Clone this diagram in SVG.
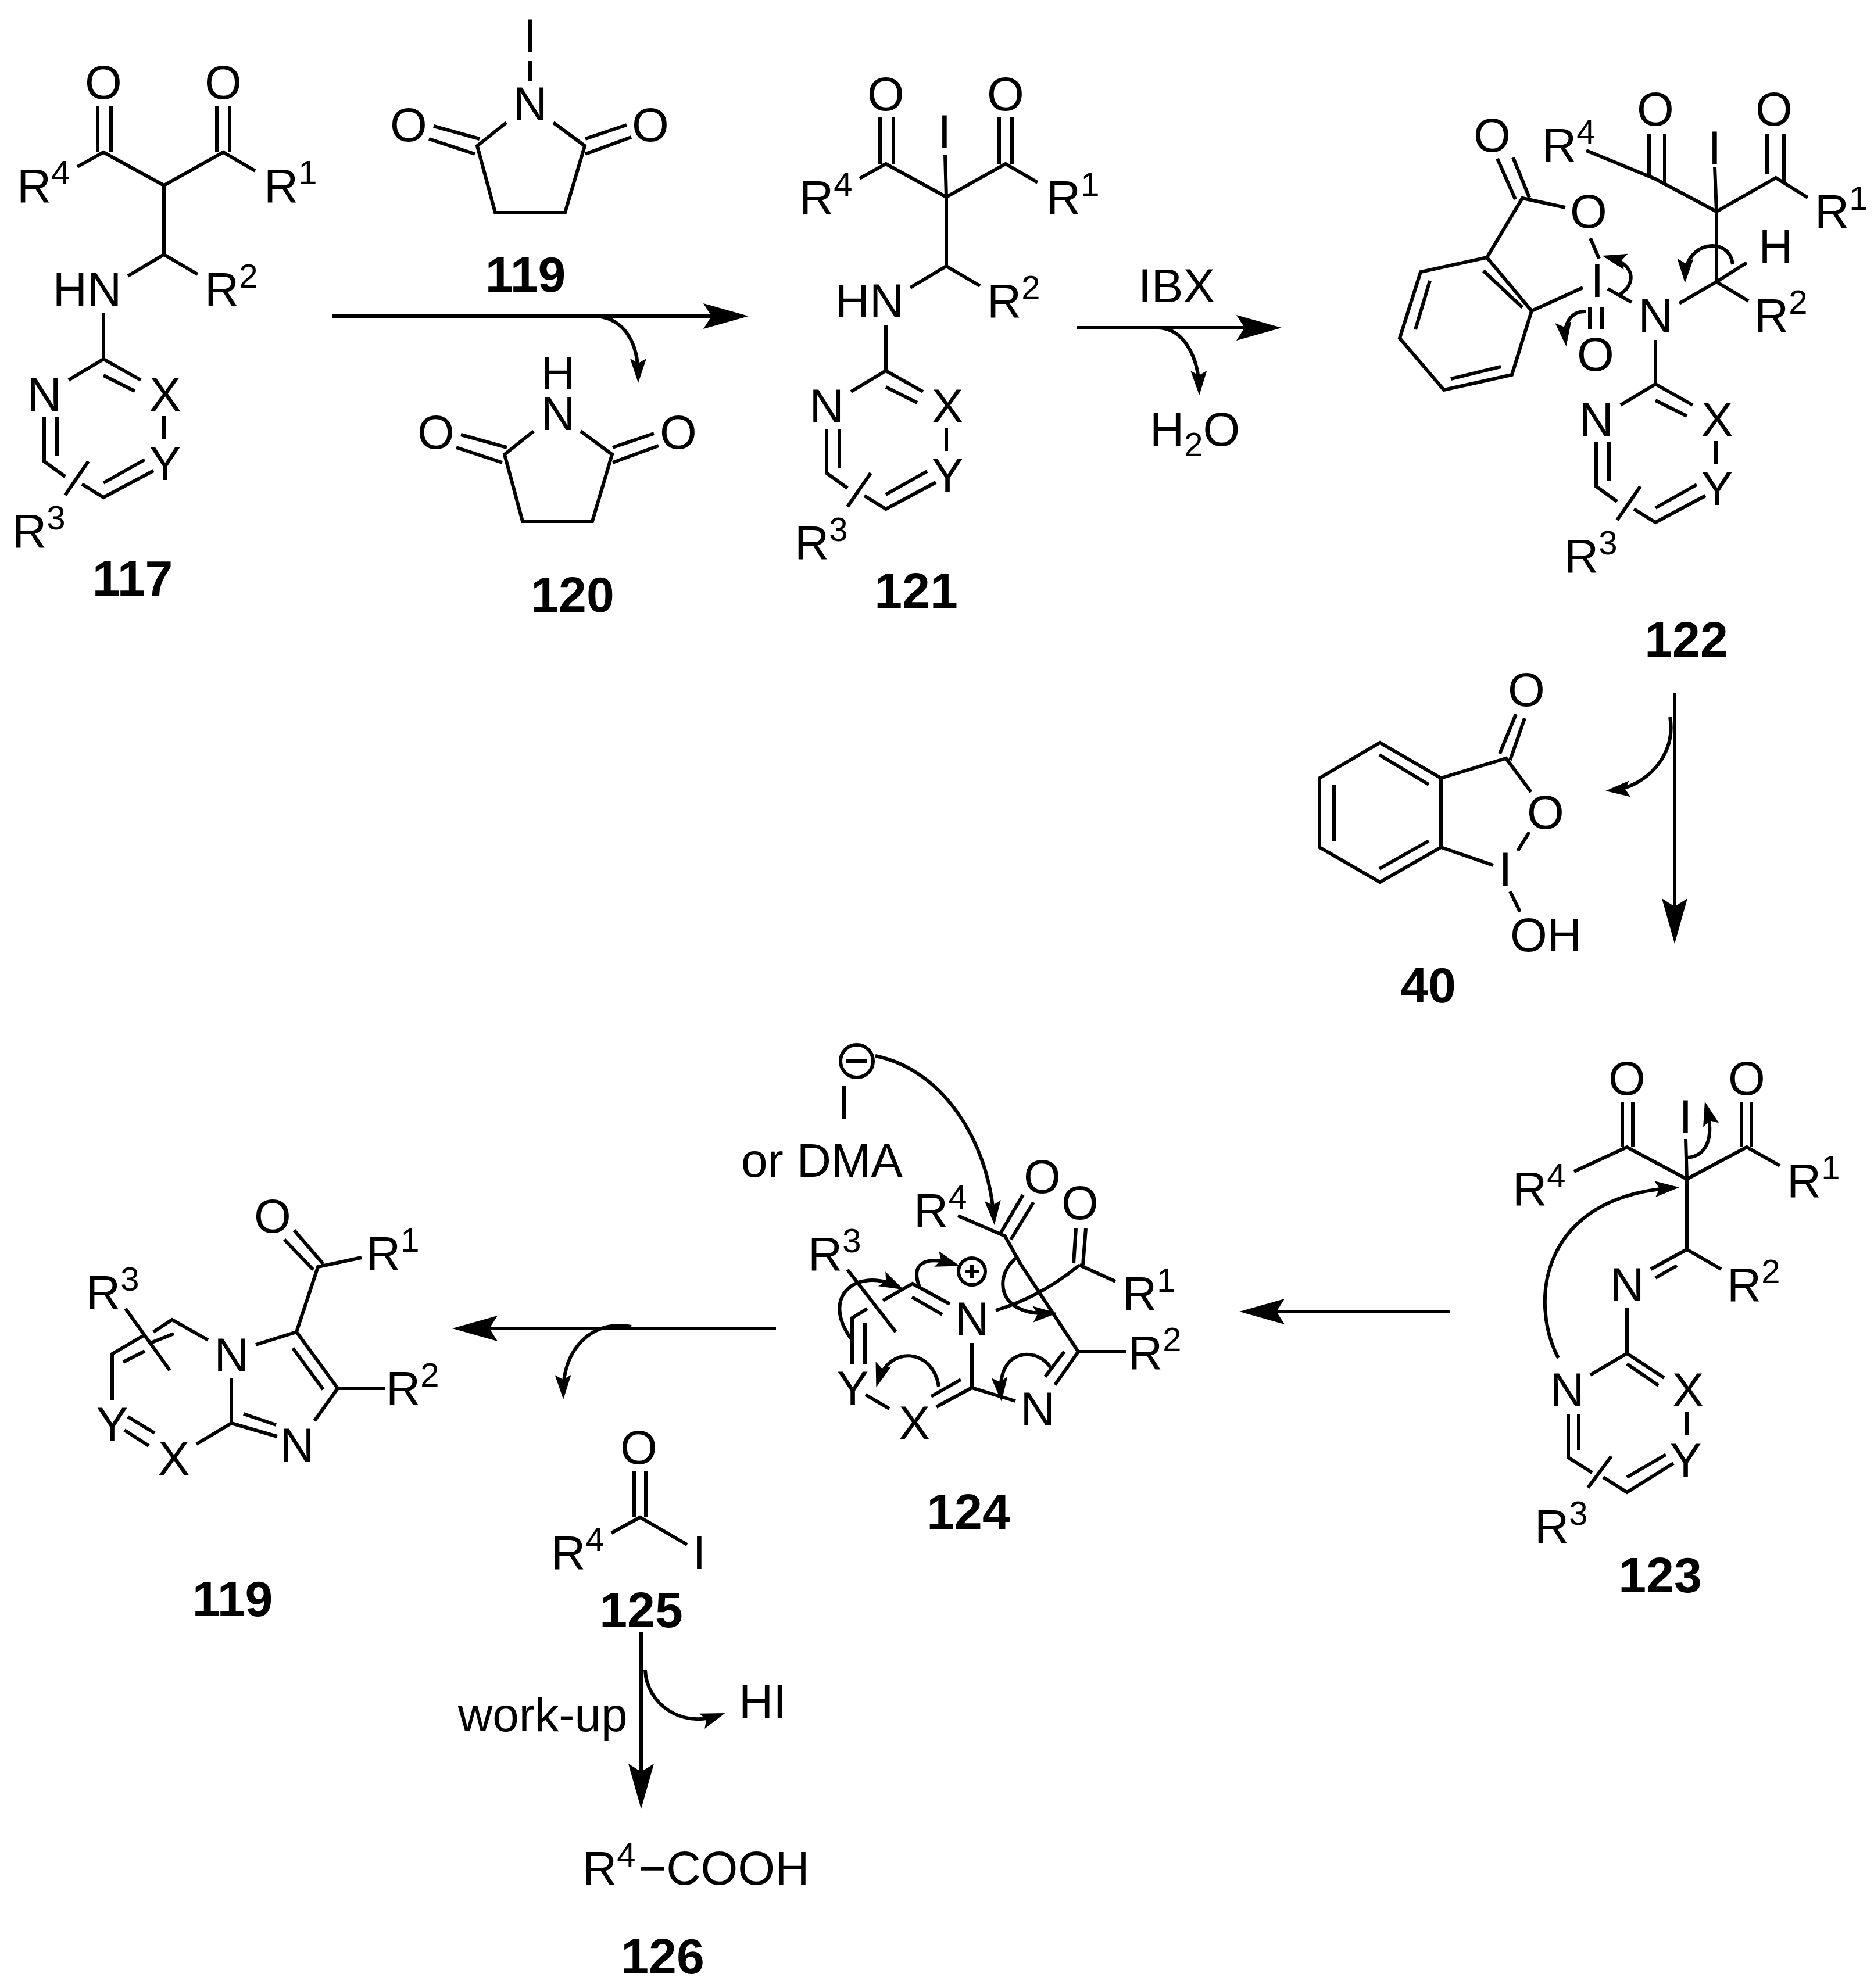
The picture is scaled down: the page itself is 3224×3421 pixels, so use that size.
<svg xmlns="http://www.w3.org/2000/svg" xmlns:xlink="http://www.w3.org/1999/xlink" width="3224" height="3421" viewBox="0 0 3224 3421">
<style>
text{font-family:"Liberation Sans",Arial,sans-serif;font-size:82px;fill:#000}
.c{text-anchor:middle}
.l{text-anchor:middle;font-weight:bold;font-size:86px}
.s{font-size:58px}
.b{fill:none;stroke:#000;stroke-width:6}
.a{fill:none;stroke:#000;stroke-width:6}
</style>
<defs>
<marker id="big" markerUnits="userSpaceOnUse" viewBox="0 -25 90 50" markerWidth="90" markerHeight="50" refX="60" refY="0" orient="auto"><path d="M0-22L78 0L0 22L14 0Z" fill="#000"/></marker>
<marker id="curl" markerUnits="userSpaceOnUse" viewBox="0 -16 46 32" markerWidth="46" markerHeight="32" refX="30" refY="0" orient="auto"><path d="M0-14L42 0L0 14L8 0Z" fill="#000"/></marker>
<path id="ring" class="b" d="M118 654L178 618L242 654M178 646L232 673M76 718V794L112 820M98 718V785M141 833L178 856L264 810M178 831L249 791M282 716V756M152 794L112 852"/>
<path id="chain" class="b" d="M133 287L178 262L282 319L384 262L439 294M168 182V262M191 182V262M373 182V262M395 182V262M282 319V438M220 475L282 438L340 472M178 539V618"/>
<path id="imide" class="b" d="M871 211L821 251L852 366H972L1006 251L952 211M817 265L738 239M825 239L746 217M1007 239L1078 215M1007 265L1086 236"/>
</defs>
<g id="connectors">
<path class="a" marker-end="url(#big)" d="M572 544H1270"/>
<path class="a" marker-end="url(#curl)" d="M1028 544C1075 550 1098 590 1098 647"/>
<path class="a" marker-end="url(#big)" d="M1852 564H2187"/>
<path class="a" marker-end="url(#curl)" d="M1993 564C2040 566 2062 620 2063 668"/>
<path class="a" marker-end="url(#big)" d="M2881 1192V1606"/>
<path class="a" marker-end="url(#curl)" d="M2873 1234C2885 1300 2830 1355 2774 1360"/>
<path class="a" marker-end="url(#big)" d="M2494 2257H2150"/>
<path class="a" marker-end="url(#big)" d="M1335 2286H796"/>
<path class="a" marker-end="url(#curl)" d="M1086 2283C1020 2270 968 2320 969 2396"/>
<path class="a" marker-end="url(#big)" d="M1103 2808V3095"/>
<path class="a" marker-end="url(#curl)" d="M1110 2874C1112 2930 1170 2975 1236 2952"/>
<path class="a" marker-end="url(#curl)" d="M2785 508C2815 490 2815 455 2768 443"/>
<path class="a" marker-end="url(#curl)" d="M2729 536C2700 535 2690 560 2693 584"/>
<path class="a" marker-end="url(#curl)" d="M2981 455C2975 405 2900 415 2899 475"/>
<path class="a" marker-end="url(#curl)" d="M2681 2337C2630 2240 2650 2060 2877 2044"/>
<path class="a" marker-end="url(#curl)" d="M2902 1992C2935 1990 2950 1960 2936 1907"/>
<path class="a" marker-end="url(#curl)" d="M1506 1817C1620 1840 1700 1960 1710 2096"/>
<path class="a" marker-end="url(#curl)" d="M1583 2217C1565 2175 1590 2160 1640 2175"/>
<path class="a" marker-end="url(#curl)" d="M1465 2305C1410 2230 1475 2180 1544 2214"/>
<path class="a" marker-end="url(#curl)" d="M1615 2386C1605 2320 1530 2315 1511 2376"/>
<path class="a" marker-end="url(#curl)" d="M1809 2356C1785 2315 1715 2320 1722 2400"/>
<path class="a" marker-end="url(#curl)" d="M1752 2162C1710 2190 1710 2265 1807 2260"/>
</g>
<g id="c117">
<use href="#chain" xlink:href="#chain"/><use href="#ring" xlink:href="#ring"/>
<text class="c" x="178" y="170">O</text><text class="c" x="384" y="170">O</text>
<text x="29" y="348">R<tspan class="s" dy="-31">4</tspan></text>
<text x="454" y="348">R<tspan class="s" dy="-31">1</tspan></text>
<text class="c" x="150" y="526">HN</text>
<text x="352" y="526">R<tspan class="s" dy="-31">2</tspan></text>
<text class="c" x="76" y="707">N</text><text class="c" x="284" y="707">X</text><text class="c" x="284" y="826">Y</text>
<text x="21" y="942">R<tspan class="s" dy="-31">3</tspan></text>
<text class="l" x="228" y="1025">117</text>
</g>
<g id="c119a">
<use href="#imide" xlink:href="#imide"/>
<path class="b" d="M912 105V140"/>
<text class="c" x="912" y="90">I</text>
<text class="c" x="912" y="207">N</text>
<text class="c" x="703" y="243">O</text><text class="c" x="1119" y="243">O</text>
<text class="l" x="904" y="502">119</text>
</g>
<g id="c120">
<use href="#imide" xlink:href="#imide" transform="translate(47 531)"/>
<text class="c" x="960" y="670">H</text>
<text class="c" x="960" y="740">N</text>
<text class="c" x="750" y="772">O</text><text class="c" x="1167" y="772">O</text>
<text class="l" x="985" y="1053">120</text>
</g>
<g id="c121">
<use href="#chain" xlink:href="#chain" transform="translate(1346 20)"/><use href="#ring" xlink:href="#ring" transform="translate(1346 20)"/>
<path class="b" d="M1626 266L1628 339"/>
<text class="c" x="1524" y="190">O</text><text class="c" x="1730" y="190">O</text>
<text class="c" x="1625" y="255">I</text>
<text x="1375" y="368">R<tspan class="s" dy="-31">4</tspan></text>
<text x="1800" y="368">R<tspan class="s" dy="-31">1</tspan></text>
<text class="c" x="1496" y="546">HN</text>
<text x="1698" y="546">R<tspan class="s" dy="-31">2</tspan></text>
<text class="c" x="1422" y="727">N</text><text class="c" x="1630" y="727">X</text><text class="c" x="1630" y="846">Y</text>
<text x="1367" y="962">R<tspan class="s" dy="-31">3</tspan></text>
<text class="l" x="1576" y="1046">121</text>
</g>
<g id="reagent-ibx">
<text class="c" x="2024" y="520">IBX</text>
<text x="1978" y="767">H<tspan class="s" dy="18">2</tspan><tspan dy="-18">O</tspan></text>
</g>
<g id="c122">
<use href="#ring" xlink:href="#ring" transform="translate(2670 43)"/>
<path class="b" d="M2729 259L2848 308L2953 364L3055 306L3110 340M2837 231V301M2864 231V318M3040 231V300M3069 231V316M2950 287L2953 364V485M3005 452L2953 485L3008 518M2889 522L2953 485M2848 585V661"/>
<path class="b" d="M2576 273L2607 343M2603 271L2631 340M2693 357L2619 341L2558 443L2444 468L2408 582L2484 671L2601 645L2635 535L2558 443M2635 535L2723 495M2736 410L2751 445M2766 497L2807 520M2460 483L2435 567M2552 466L2619 529M2496 652L2582 631M2735 529V567M2756 529V567"/>
<text class="c" x="2848" y="216">O</text><text class="c" x="3052" y="216">O</text>
<text class="c" x="2950" y="283">I</text>
<text x="2653" y="278">R<tspan class="s" dy="-31">4</tspan></text>
<text x="3122" y="392">R<tspan class="s" dy="-31">1</tspan></text>
<text class="c" x="3055" y="452">H</text>
<text x="3018" y="571">R<tspan class="s" dy="-31">2</tspan></text>
<text class="c" x="2848" y="571">N</text>
<text class="c" x="2746" y="750">N</text><text class="c" x="2954" y="750">X</text><text class="c" x="2954" y="869">Y</text>
<text x="2691" y="985">R<tspan class="s" dy="-31">3</tspan></text>
<text class="c" x="2567" y="261">O</text><text class="c" x="2733" y="392">O</text>
<text class="c" x="2748" y="511">I</text>
<text class="c" x="2745" y="638">O</text>
<text class="l" x="2901" y="1130">122</text>
</g>
<g id="c40">
<path class="b" d="M2270 1339L2374 1278L2479 1339V1458L2374 1518L2270 1458ZM2479 1339L2591 1305L2634 1363M2631 1432L2611 1464M2479 1458L2569 1489M2598 1534L2615 1569M2580 1297L2608 1229M2598 1308L2623 1236M2295 1350V1447M2373 1299L2458 1350M2373 1495L2458 1447"/>
<text class="c" x="2626" y="1215">O</text><text class="c" x="2659" y="1426">O</text>
<text class="c" x="2590" y="1524">I</text>
<text x="2598" y="1637">OH</text>
<text class="l" x="2457" y="1725">40</text>
</g>
<g id="c123">
<path class="b" d="M2708 2016L2799 1974L2902 2029L3005 1974L3062 2006M2791 1897V1974M2809 1897V1974M2996 1897V1974M3013 1897V1974M2900 1960L2902 2029V2150L2961 2184M2902 2150L2840 2184M2885 2178L2848 2199M2799 2250V2329M2736 2366L2799 2329L2863 2371M2799 2347L2853 2384M2902 2429V2469M2698 2434V2508L2739 2534M2716 2434V2495M2758 2542L2799 2568L2879 2518M2799 2542L2866 2503M2772 2506L2732 2560"/>
<text class="c" x="2799" y="1884">O</text><text class="c" x="3005" y="1884">O</text>
<text class="c" x="2900" y="1950">I</text>
<text x="2602" y="2074">R<tspan class="s" dy="-31">4</tspan></text>
<text x="3074" y="2060">R<tspan class="s" dy="-31">1</tspan></text>
<text class="c" x="2799" y="2239">N</text>
<text x="2971" y="2239">R<tspan class="s" dy="-31">2</tspan></text>
<text class="c" x="2696" y="2420">N</text><text class="c" x="2904" y="2420">X</text><text class="c" x="2900" y="2541">Y</text>
<text x="2640" y="2655">R<tspan class="s" dy="-31">3</tspan></text>
<text class="l" x="2856" y="2740">123</text>
</g>
<g id="c124">
<circle class="b" cx="1474" cy="1826" r="28"/>
<path class="b" d="M1456 1826H1492M1672 2176V2200M1660 2188H1684"/>
<circle class="b" cx="1672" cy="2188" r="23"/>
<path class="b" d="M1648 2092L1729 2127L1755 2174L1855 2326H1937M1722 2121L1760 2056M1739 2133L1778 2069M1847 2174L1851 2114M1863 2177L1868 2114M1857 2177L1919 2205M1713 2255Q1790 2232 1857 2177M1672 2311V2388L1747 2411M1855 2326L1815 2383M1831 2326L1798 2369M1672 2388L1611 2421M1653 2374L1602 2403M1489 2400L1530 2424M1466 2347V2268L1492 2252M1488 2347V2277M1519 2238L1570 2209L1634 2244M1569 2232L1621 2262M1458 2185L1541 2292"/>
<text class="c" x="1452" y="1925">I</text>
<text x="1275" y="2025">or DMA</text>
<text x="1572" y="2111">R<tspan class="s" dy="-31">4</tspan></text>
<text class="c" x="1793" y="2053">O</text><text class="c" x="1858" y="2098">O</text>
<text x="1931" y="2254">R<tspan class="s" dy="-31">1</tspan></text>
<text x="1941" y="2356">R<tspan class="s" dy="-31">2</tspan></text>
<text x="1390" y="2186">R<tspan class="s" dy="-31">3</tspan></text>
<text class="c" x="1672" y="2298">N</text><text class="c" x="1785" y="2453">N</text>
<text class="c" x="1573" y="2477">X</text><text class="c" x="1467" y="2417">Y</text>
<text class="l" x="1666" y="2631">124</text>
</g>
<g id="c119b">
<path class="b" d="M506 2117L556 2175M489 2133L539 2185M622 2164L547 2180L510 2292L581 2389L662 2389M504 2320L556 2391M581 2389L541 2445M398 2449L477 2472M419 2433L475 2452M398 2372V2449L338 2485M440 2314L510 2292M220 2438L266 2466M214 2461L256 2488M193 2410V2330L249 2297M264 2292L296 2271L358 2306M212 2344L249 2325M259 2311L299 2295M216 2252L292 2358"/>
<text class="c" x="469" y="2121">O</text>
<text x="630" y="2185">R<tspan class="s" dy="-31">1</tspan></text>
<text x="664" y="2417">R<tspan class="s" dy="-31">2</tspan></text>
<text x="148" y="2252">R<tspan class="s" dy="-31">3</tspan></text>
<text class="c" x="511" y="2515">N</text><text class="c" x="398" y="2360">N</text>
<text class="c" x="299" y="2538">X</text><text class="c" x="193" y="2479">Y</text>
<text class="l" x="400" y="2781">119</text>
</g>
<g id="c125">
<path class="b" d="M1091 2532V2611M1111 2532V2611M1052 2638L1101 2611L1182 2658"/>
<text class="c" x="1099" y="2519">O</text>
<text x="948" y="2700">R<tspan class="s" dy="-31">4</tspan></text>
<text class="c" x="1203" y="2700">I</text>
<text class="l" x="1103" y="2800">125</text>
</g>
<g id="reagent-workup">
<text x="788" y="2979">work-up</text>
<text x="1271" y="2956">HI</text>
</g>
<g id="c126">
<text x="1002" y="3243">R<tspan class="s" dy="-31">4</tspan><tspan dy="31" dx="5">−COOH</tspan></text>
<text class="l" x="1140" y="3396">126</text>
</g>
</svg>
